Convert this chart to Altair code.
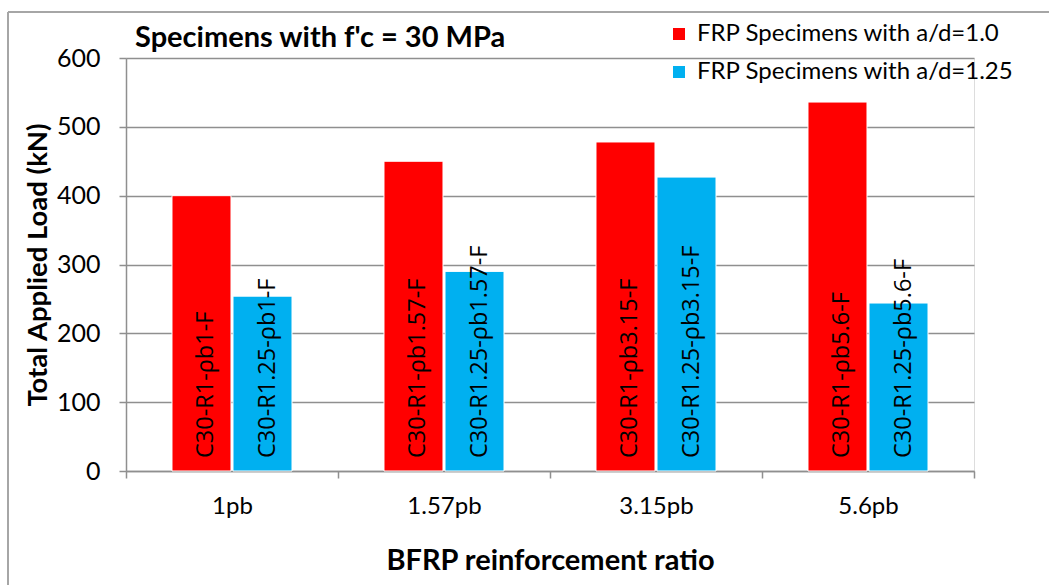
import altair as alt
import pandas as pd

categories = ["1pb", "1.57pb", "3.15pb", "5.6pb"]
series = ["FRP Specimens with a/d=1.0", "FRP Specimens with a/d=1.25"]
load_ad10 = [400, 450, 478, 536]
load_ad125 = [254, 290, 427, 244]
names_ad10 = ["C30-R1-ρb1-F", "C30-R1-ρb1.57-F", "C30-R1-ρb3.15-F", "C30-R1-ρb5.6-F"]
names_ad125 = ["C30-R1.25-ρb1-F", "C30-R1.25-ρb1.57-F", "C30-R1.25-ρb3.15-F", "C30-R1.25-ρb5.6-F"]
colors = ["#FF0000", "#00B0F0"]
y_ticks = [0, 100, 200, 300, 400, 500, 600]

rows = []
for i, c in enumerate(categories):
    rows.append({"ratio": c, "series": series[0], "load": load_ad10[i], "name": names_ad10[i]})
    rows.append({"ratio": c, "series": series[1], "load": load_ad125[i], "name": names_ad125[i]})
df = pd.DataFrame(rows)

W, H = 848, 413
FONT = "Lato"
GRID = "#8f8f8f"

x_enc = alt.X(
    "ratio:N", sort=categories,
    scale=alt.Scale(paddingInner=0, paddingOuter=0),
    axis=alt.Axis(
        title="BFRP reinforcement ratio", labelAngle=0, tickBand="extent",
        labelFont=FONT, labelFontSize=24, labelColor="black", labelBaseline="middle",
        labelPadding=28, tickSize=7, tickColor=GRID, domainColor=GRID, tickWidth=1.5, domainWidth=1.5,
        titleFont=FONT, titleFontSize=29, titleFontWeight="bold", titleColor="black",
        titleX=W / 2, titleY=89, titleAlign="center", titleBaseline="middle", grid=False,
    ),
)
xo_enc = alt.XOffset("series:N", sort=series, scale=alt.Scale(paddingInner=0.033, paddingOuter=0.754))
y_enc = alt.Y(
    "load:Q", scale=alt.Scale(domain=[0, 600], nice=False),
    axis=alt.Axis(
        values=y_ticks, title="Total Applied Load (kN)",
        labelFont=FONT, labelFontSize=25, labelColor="black", labelPadding=19,
        tickSize=7, tickColor=GRID, tickWidth=1.5, domainColor=GRID, domainWidth=1.5,
        grid=True, gridColor=GRID, gridWidth=1.5,
        titleFont=FONT, titleFontSize=27.5, titleFontWeight="bold", titleColor="black",
        titleX=-88, titleY=H / 2, titleAngle=270, titleAlign="center", titleBaseline="middle",
    ),
)

bars = alt.Chart(df).mark_bar(stroke="white", strokeWidth=1).encode(
    x=x_enc, xOffset=xo_enc, y=y_enc,
    color=alt.Color(
        "series:N", sort=series, scale=alt.Scale(domain=series, range=colors),
        legend=alt.Legend(
            orient="none", legendX=541, legendY=-36, title=None, symbolType="square",
            symbolSize=144, symbolStrokeWidth=0, labelFont=FONT, labelFontSize=24,
            labelColor="black", labelOffset=6, rowPadding=14, padding=0, labelLimit=0,
        ),
    ),
)

labels = alt.Chart(df).mark_text(
    angle=270, align="left", baseline="alphabetic", dx=13, dy=12,
    font="Open Sans", fontSize=23.5, color="black",
).encode(
    x=alt.X("ratio:N", sort=categories), xOffset=alt.XOffset("series:N", sort=series),
    y=alt.Y(datum=0), text="name:N",
)

border_left = alt.Chart(df).mark_rule(color="#a6a6a6", strokeWidth=1.5).encode(
    x=alt.value(-118), y=alt.value(-46), y2=alt.value(H + 120)
)
border_top = alt.Chart(df).mark_rule(color="#a6a6a6", strokeWidth=1.5).encode(
    x=alt.value(-118), x2=alt.value(W + 80), y=alt.value(-46)
)

chart = alt.layer(border_left, border_top, bars, labels).properties(
    width=W, height=H,
    title=alt.TitleParams(
        "Specimens with f'c = 30 MPa", anchor="start", frame="group", dx=9, dy=62,
        baseline="middle", offset=6, font=FONT, fontSize=29, fontWeight="bold", color="black",
    ),
    autosize=alt.AutoSizeParams(type="none"),
    padding={"left": 126, "top": 58, "right": 75, "bottom": 114},
).configure_view(stroke=None).configure(background="white")

chart.save("out.html", embed_options={"renderer": "svg", "actions": False})
